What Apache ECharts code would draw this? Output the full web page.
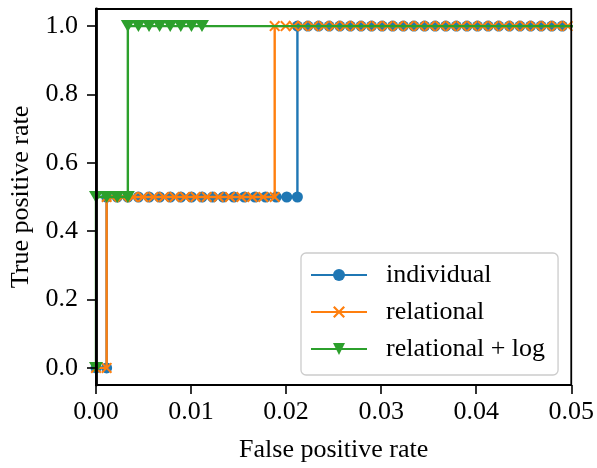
<!DOCTYPE html>
<html>
<head>
<meta charset="utf-8">
<script src="https://cdn.jsdelivr.net/npm/echarts@6/dist/echarts.min.js"></script>
<style>html,body{margin:0;padding:0;background:#fff}#c{width:597px;height:468px}</style>
</head>
<body>
<div id="c"></div>
<script>
// Series names
const seriesNames = ['individual', 'relational', 'relational + log'];

// False-positive-rate values of each ROC curve, grouped by true-positive-rate level
const individualAt0 = [0, 0.00112];
const individualAt05 = [0.00112, 0.00223, 0.00335, 0.00446, 0.00558, 0.00669, 0.00781, 0.00892, 0.01004, 0.01115, 0.01227, 0.01338, 0.0145, 0.01561, 0.01673, 0.01784, 0.01896, 0.02007, 0.02119];
const individualAt1 = [0.02119, 0.0223, 0.02342, 0.02453, 0.02565, 0.02676, 0.02788, 0.02899, 0.03011, 0.03122, 0.03234, 0.03345, 0.03457, 0.03568, 0.0368, 0.03791, 0.03903, 0.04014, 0.04126, 0.04237, 0.04349, 0.0446, 0.04572, 0.04683, 0.04795, 0.04906, 0.05018, 1.0];

const relationalAt0 = [0, 0.00112];
const relationalAt05 = [0.00112, 0.00167, 0.00279, 0.0039, 0.00495, 0.00605, 0.00716, 0.00827, 0.00937, 0.01048, 0.01165, 0.0129, 0.0141, 0.0153, 0.01645, 0.0176, 0.0188];
const relationalAt1 = [0.0188, 0.01995, 0.0208, 0.02174, 0.02286, 0.02397, 0.02509, 0.0262, 0.02732, 0.02843, 0.02955, 0.03066, 0.03178, 0.03289, 0.03401, 0.03512, 0.03624, 0.03735, 0.03847, 0.03958, 0.0407, 0.04181, 0.04293, 0.04404, 0.04516, 0.04627, 0.04739, 0.0485, 0.04962, 1.0];

const relLogAt0 = [0];
const relLogAt05 = [0, 0.00112, 0.00223, 0.00335];
const relLogAt1 = [0.00335, 0.00446, 0.00558, 0.00669, 0.00781, 0.00892, 0.01004, 0.01115, 1.0];

// Tick values
const xTicks = [0, 0.01, 0.02, 0.03, 0.04, 0.05];
const yTicks = [0, 0.2, 0.4, 0.6, 0.8, 1.0];

function build(a0, a05, a1) {
  return a0.map(x => [x, 0]).concat(a05.map(x => [x, 0.5]), a1.map(x => [x, 1]));
}

const FONT = 'Liberation Serif';
const colors = ['#1f77b4', '#ff7f0e', '#2ca02c'];
const xSym = 'path://M0,1.3L1.3,0L5,3.7L8.7,0L10,1.3L6.3,5L10,8.7L8.7,10L5,6.3L1.3,10L0,8.7L3.7,5Z';
const triSym = 'path://M0,0L10,0L5,8.7Z';

const chart = echarts.init(document.getElementById('c'), null, {renderer: 'canvas'});
chart.setOption({
  animation: false,
  color: colors,
  grid: {left: 96, top: 9, right: 23, bottom: 82, show: true, borderColor: '#000', borderWidth: 1.8, backgroundColor: 'transparent', zlevel: 1},
  xAxis: {
    type: 'value', min: 0, max: 0.05, interval: 0.01, zlevel: 1,
    name: 'False positive rate', nameLocation: 'middle', nameGap: 52,
    nameTextStyle: {fontFamily: FONT, fontSize: 26, color: '#000'},
    axisLine: {show: true, onZero: false, lineStyle: {color: '#000', width: 1.8}},
    axisTick: {show: true, length: 9, lineStyle: {color: '#000', width: 1.6}, customValues: xTicks},
    axisLabel: {fontFamily: FONT, fontSize: 26, color: '#000', margin: 14, customValues: xTicks, formatter: v => v.toFixed(2)},
    splitLine: {show: false}
  },
  yAxis: {
    type: 'value', min: -0.05, max: 1.05, zlevel: 1,
    name: 'True positive rate', nameLocation: 'middle', nameGap: 61, nameRotate: 90,
    nameTextStyle: {fontFamily: FONT, fontSize: 26, color: '#000'},
    axisLine: {show: true, onZero: false, lineStyle: {color: '#000', width: 2.8}},
    axisTick: {show: true, length: 9, lineStyle: {color: '#000', width: 1.6}, customValues: yTicks},
    axisLabel: {fontFamily: FONT, fontSize: 26, color: '#000', margin: 18, customValues: yTicks, formatter: v => v.toFixed(1)},
    splitLine: {show: false}
  },
  legend: {
    left: 301, top: 253, orient: 'vertical', zlevel: 1,
    padding: [9, 13, 13, 9], itemGap: 11, itemWidth: 56, itemHeight: 15,
    backgroundColor: 'rgba(255,255,255,0.8)', borderColor: '#cccccc', borderWidth: 1.3, borderRadius: 5,
    textStyle: {fontFamily: FONT, fontSize: 26, color: '#000', padding: [0, 0, 0, 14]},
    data: seriesNames
  },
  series: [
    {name: seriesNames[0], type: 'line', data: build(individualAt0, individualAt05, individualAt1),
     symbol: 'circle', symbolSize: 11, showAllSymbol: true, clip: true,
     lineStyle: {width: 2.4, color: colors[0]}, itemStyle: {color: colors[0]}, z: 2},
    {name: seriesNames[1], type: 'line', data: build(relationalAt0, relationalAt05, relationalAt1),
     symbol: xSym, symbolSize: 11, showAllSymbol: true, clip: true,
     lineStyle: {width: 2.4, color: colors[1]}, itemStyle: {color: colors[1]}, z: 3},
    {name: seriesNames[2], type: 'line', data: build(relLogAt0, relLogAt05, relLogAt1),
     symbol: triSym, symbolSize: [14, 12], showAllSymbol: true, clip: true,
     lineStyle: {width: 2.4, color: colors[2]}, itemStyle: {color: colors[2]}, z: 4}
  ]
});
</script>
</body>
</html>
